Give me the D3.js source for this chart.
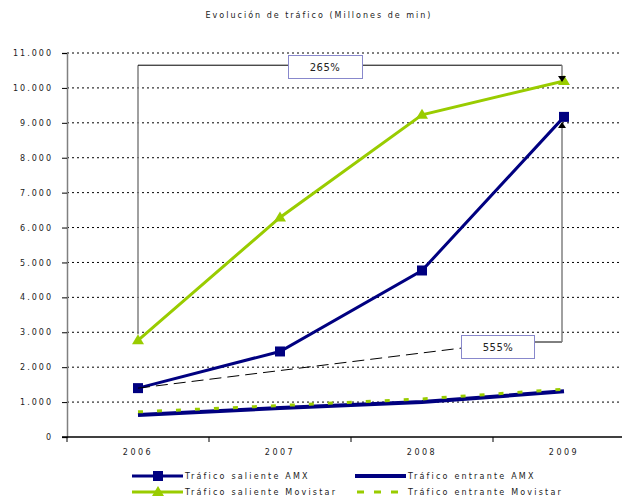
<!DOCTYPE html>
<html>
<head>
<meta charset="utf-8">
<script src="https://cdn.jsdelivr.net/npm/d3@7"></script>
<style>
  body { margin: 0; background: #fff; }
  text { font-family: "DejaVu Sans", Verdana, sans-serif; fill: #222; }
</style>
</head>
<body>
<script>
// chart data
const years = ['2006', '2007', '2008', '2009'];
const salienteAMX = [1400, 2450, 4770, 9170];
const entranteAMX = [630, 830, 1000, 1310];
const salienteMovistar = [2770, 6290, 9230, 10200];
const entranteMovistar = [720, 900, 1090, 1370];
const yTicks = d3.range(0, 11001, 1000);
const growthLabels = ['265%', '555%'];

const W = 622, H = 500;
const plot = {left: 67, right: 635, top: 53, bottom: 437};

const svg = d3.select("body").append("svg")
    .attr("width", W)
    .attr("height", H);

const x = d3.scaleBand()
    .domain(years)
    .range([plot.left, plot.right]);
const y = d3.scaleLinear()
    .domain([0, 11000])
    .range([plot.bottom, plot.top]);
const cx = d => x(d) + x.bandwidth() / 2;

// title
svg.append("text")
    .attr("x", 319).attr("y", 18)
    .attr("text-anchor", "middle")
    .style("font-size", "8px")
    .style("letter-spacing", "2px")
    .text("Evolución de tráfico (Millones de min)");

// gridlines
svg.append("g").selectAll("line")
    .data(yTicks.filter(t => t > 0))
    .enter().append("line")
    .attr("x1", plot.left).attr("x2", plot.right)
    .attr("y1", d => y(d)).attr("y2", d => y(d))
    .attr("stroke", "#000")
    .attr("stroke-dasharray", "2,3");

// y axis
const yAxis = svg.append("g")
    .attr("transform", `translate(${plot.left},0)`)
    .call(d3.axisLeft(y).tickValues(yTicks).tickSize(5).tickPadding(9)
        .tickFormat(d => d === 0 ? "0" : d3.format(",")(d).replace(/,/g, ".")));
yAxis.select(".domain").attr("stroke", "#808080").attr("stroke-width", 1.5);
yAxis.selectAll(".tick line").attr("stroke", "#000");
yAxis.selectAll(".tick text")
    .style("font-size", "8px")
    .style("letter-spacing", "2px")
    .attr("fill", "#222");

// x axis
const xAxis = svg.append("g")
    .attr("transform", `translate(0,${plot.bottom})`)
    .call(d3.axisBottom(x).tickSize(0).tickPadding(12));
xAxis.select(".domain").remove();
xAxis.selectAll(".tick text")
    .style("font-size", "8px")
    .style("letter-spacing", "2.5px")
    .attr("fill", "#222");
svg.append("line")
    .attr("x1", plot.left - 5).attr("x2", plot.right)
    .attr("y1", plot.bottom).attr("y2", plot.bottom)
    .attr("stroke", "#000").attr("stroke-width", 1.5);
svg.append("g").selectAll("line")
    .data(years.concat(["end"]))
    .enter().append("line")
    .attr("x1", (d, i) => plot.left + i * x.bandwidth())
    .attr("x2", (d, i) => plot.left + i * x.bandwidth())
    .attr("y1", plot.bottom).attr("y2", plot.bottom + 5)
    .attr("stroke", "#000");

const navy = "#000080", green = "#99cc00";
const line = d3.line().x((d, i) => cx(years[i])).y(d => y(d));

const series = [
  {name: "Tráfico entrante AMX", data: entranteAMX, color: navy, width: 4, dash: null, marker: null},
  {name: "Tráfico entrante Movistar", data: entranteMovistar, color: green, width: 3, dash: "5,14", marker: null},
  {name: "Tráfico saliente Movistar", data: salienteMovistar, color: green, width: 3, dash: null, marker: "tri"},
  {name: "Tráfico saliente AMX", data: salienteAMX, color: navy, width: 3, dash: null, marker: "sq"}
];

function drawMarker(g, type, color, px, py) {
  if (type === "sq") {
    g.append("rect").attr("x", px - 5).attr("y", py - 5)
      .attr("width", 10).attr("height", 10).attr("fill", color);
  } else if (type === "tri") {
    g.append("path")
      .attr("d", `M${px},${py - 6}L${px + 6},${py + 4}L${px - 6},${py + 4}Z`)
      .attr("fill", color);
  }
}

series.forEach(s => {
  svg.append("path")
    .datum(s.data)
    .attr("d", line)
    .attr("fill", "none")
    .attr("stroke", s.color)
    .attr("stroke-width", s.width)
    .attr("stroke-dasharray", s.dash);
  const g = svg.append("g");
  s.data.forEach((v, i) => drawMarker(g, s.marker, s.color, cx(years[i]), y(v)));
});

// annotations
const arrow = (px, py, dir) => svg.append("path")
    .attr("d", dir > 0
      ? `M${px - 4},${py - 6}L${px + 4},${py - 6}L${px},${py}Z`
      : `M${px - 4},${py + 6}L${px + 4},${py + 6}L${px},${py}Z`)
    .attr("fill", "#000");

const x06 = cx("2006"), x09 = cx("2009") - 2;
// 265% bracket
const topY = y(10650);
svg.append("line").attr("x1", x06).attr("x2", x06)
    .attr("y1", y(salienteMovistar[0]) - 6).attr("y2", topY)
    .attr("stroke", "#808080").attr("stroke-width", 1.5);
svg.append("line").attr("x1", x06).attr("x2", x09)
    .attr("y1", topY).attr("y2", topY).attr("stroke", "#000");
svg.append("line").attr("x1", x09).attr("x2", x09)
    .attr("y1", topY).attr("y2", y(salienteMovistar[3]) - 1)
    .attr("stroke", "#808080").attr("stroke-width", 1.5);
arrow(x09, y(salienteMovistar[3]) + 1, 1);
svg.append("rect").attr("x", 288.5).attr("y", 55.5).attr("width", 74).attr("height", 23)
    .attr("fill", "#fff").attr("stroke", "#8888cc");
svg.append("text").attr("x", 325).attr("y", 71).attr("text-anchor", "middle")
    .style("font-size", "10px").style("letter-spacing", "0.5px").text(growthLabels[0]);

// 555% callout
const boxY = 342;
svg.append("line").attr("x1", x06).attr("x2", 462)
    .attr("y1", y(salienteAMX[0])).attr("y2", 348)
    .attr("stroke", "#000").attr("stroke-dasharray", "12,6");
svg.append("line").attr("x1", 535).attr("x2", x09)
    .attr("y1", boxY).attr("y2", boxY).attr("stroke", "#000");
svg.append("line").attr("x1", x09).attr("x2", x09)
    .attr("y1", boxY).attr("y2", y(salienteAMX[3]) + 6)
    .attr("stroke", "#808080").attr("stroke-width", 1.5);
arrow(x09, y(salienteAMX[3]) + 5, -1);
svg.append("rect").attr("x", 461.5).attr("y", 335.5).attr("width", 73).attr("height", 23)
    .attr("fill", "#fff").attr("stroke", "#8888cc");
svg.append("text").attr("x", 498).attr("y", 351).attr("text-anchor", "middle")
    .style("font-size", "10px").style("letter-spacing", "0.5px").text(growthLabels[1]);

// legend
const legendItems = [
  {s: series[3], lx: 132, ly: 476},
  {s: series[0], lx: 355, ly: 476},
  {s: series[2], lx: 132, ly: 492},
  {s: series[1], lx: 355, ly: 492}
];
legendItems.forEach(({s, lx, ly}) => {
  const g = svg.append("g");
  g.append("line").attr("x1", s.dash ? lx + 2 : lx).attr("x2", lx + 51)
    .attr("y1", ly).attr("y2", ly)
    .attr("stroke", s.color).attr("stroke-width", s.width)
    .attr("stroke-dasharray", s.dash ? "7,10" : null);
  drawMarker(g, s.marker, s.color, lx + 26, ly);
  g.append("text").attr("x", lx + 53).attr("y", ly + 3)
    .style("font-size", "8px").style("letter-spacing", "2.2px")
    .text(s.name);
});
</script>
</body>
</html>
